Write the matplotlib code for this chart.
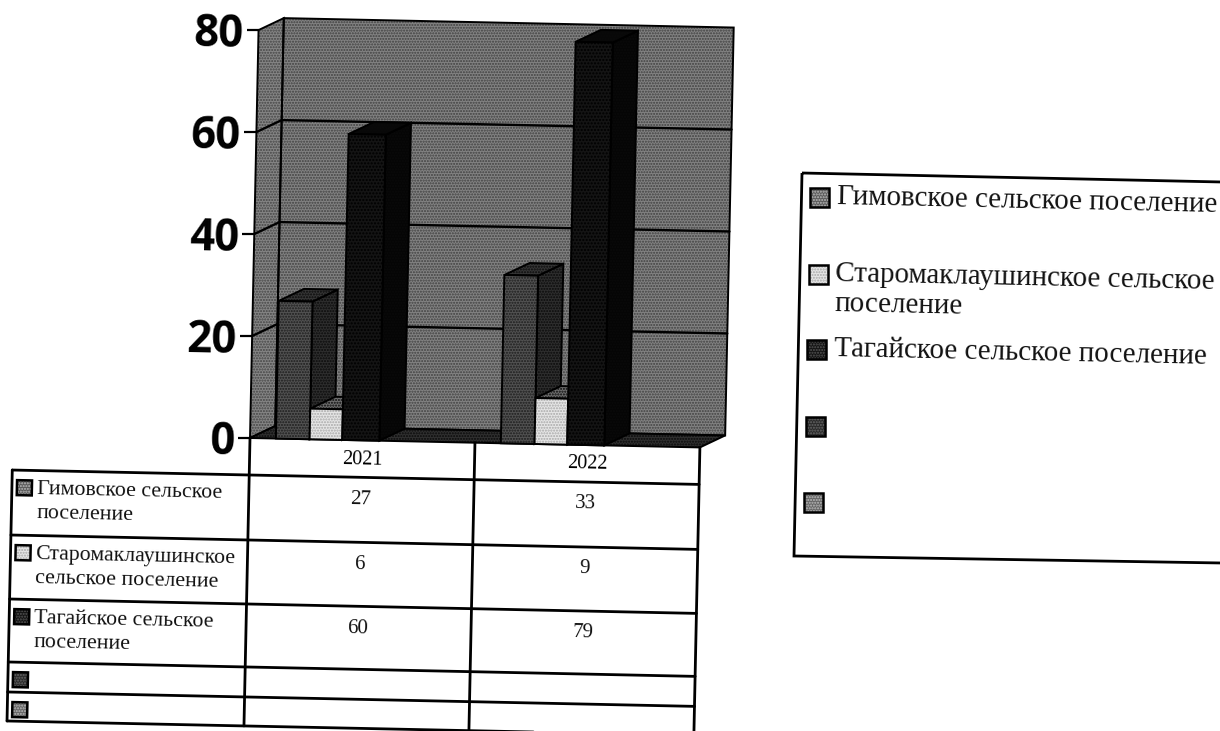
import matplotlib
matplotlib.use("Agg")
import matplotlib.pyplot as plt
from matplotlib.transforms import Affine2D
from matplotlib.patches import Polygon

# ---------- data ----------
years = ["2021", "2022"]
gimov = [27, 33]
staro = [6, 9]
tagai = [60, 79]
y_ticks = [0, 20, 40, 60, 80]
name_gimov = "Гимовское сельское поселение"
name_staro = "Старомаклаушинское сельское поселение"
name_tagai = "Тагайское сельское поселение"

# ---------- layout / style ----------
W, H = 1220, 731
TILT = -1.2
OX, OY = 250, H - 438          # origin of the tilted plot frame
PX_PER_X, PX_PER_Y = 225.0, 5.1
DX, DY = 25 / PX_PER_X, 12.5 / PX_PER_Y   # 3-D depth in data units
BAR_START = 0.115
BAR_WIDTHS = [0.15, 0.145, 0.165]
SERIF = "Liberation Serif"

fig = plt.figure(figsize=(W / 100, H / 100), dpi=100, facecolor="white")
ax = fig.add_axes([OX / W, OY / H, 2 * PX_PER_X / W, 80 * PX_PER_Y / H])
ax.set_xlim(0, 2)
ax.set_ylim(0, 80)
ax.patch.set_visible(False)
for s in ax.spines.values():
    s.set_visible(False)

rot = Affine2D().translate(-OX, -OY).rotate_deg(TILT).translate(OX, OY)
tr = ax.transData + rot
# tilted pixel frame: x right, y down from the plot origin
frame = Affine2D().scale(1, -1).rotate_deg(TILT).translate(OX, OY)
# plain image pixels
img = Affine2D().scale(1, -1).translate(0, H)


def face(xs, ys, fc, hatch=None, hc="#000000", z=1, lw=1.4):
    pts = list(zip(xs, ys))
    p = Polygon(pts, closed=True, facecolor=fc, edgecolor=hc, hatch=hatch, lw=0,
                transform=tr, clip_on=False, zorder=z)
    ax.add_patch(p)
    ax.add_patch(Polygon(pts, closed=True, fill=False, edgecolor="black", lw=lw,
                         transform=tr, clip_on=False, zorder=z + 0.01))


def seg(xs, ys, z=2, lw=1.7, t=None):
    ax.plot(xs, ys, color="black", lw=lw, transform=t if t is not None else tr,
            clip_on=False, zorder=z, solid_capstyle="round")


# walls and floor
face([0, DX, DX, 0], [0, DY, 80 + DY, 80], "#858585", "......", "#444444", z=1)
face([DX, 2 + DX, 2 + DX, DX], [DY, DY, 80 + DY, 80 + DY], "#828282", "......", "#404040", z=1)
face([0, 2, 2 + DX, DX], [0, 0, DY, DY], "#303030", "......", "#0a0a0a", z=1.5)

for v in y_ticks[1:-1]:
    seg([0, DX, 2 + DX], [v, v + DY, v + DY])

# bars
series = [gimov, staro, tagai]
front_col = ["#525252", "#e6e6e6", "#141414"]
front_hatch = ["......", "......", "....."]
hatch_col = ["#1c1c1c", "#a8a8a8", "#000000"]
side_col = ["#2e2e2e", "#6a6a6a", "#050505"]
top_col = ["#363636", "#6e6e6e", "#080808"]

z = 3
for g in range(len(years)):
    x = g + BAR_START
    for k, vals in enumerate(series):
        w = BAR_WIDTHS[k]
        v = vals[g]
        face([x + w, x + w + DX, x + w + DX, x + w], [0, DY, v + DY, v], side_col[k],
             "......", "#0a0a0a", z=z)
        face([x, x + DX, x + w + DX, x + w], [v, v + DY, v + DY, v], top_col[k],
             "......", "#0a0a0a", z=z + 0.1)
        ax.bar([x], [v], width=w, align="edge", color=front_col[k], edgecolor=hatch_col[k],
               hatch=front_hatch[k], lw=0, transform=tr, clip_on=False, zorder=z + 0.2)
        face([x, x + w, x + w, x], [0, 0, v, v], "none", z=z + 0.3)
        x += w
        z += 1

# real axis ticks, tilted with the plot
ax.set_yticks(y_ticks)
ax.set_xticks([0.5, 1.5])
ax.set_xticklabels(years, fontfamily=SERIF, fontsize=14.5)
ax.set_yticklabels([str(v) for v in y_ticks], fontfamily="Open Sans", fontweight="bold", fontsize=31.5)
ax.tick_params(axis="y", length=8.5, width=1.6, pad=2.5, labelrotation=TILT)
ax.tick_params(axis="x", length=0, pad=7, labelrotation=TILT)
for axis in (ax.xaxis, ax.yaxis):
    for t in axis.get_major_ticks():
        t.label1.set_transform(t.label1.get_transform() + rot)
        t.tick1line.set_transform(t.tick1line.get_transform() + rot)
        t.label1.set_rotation_mode("anchor")

# ---------- data table ----------
COLS = [0, 225, 450]
TAB_L = -237
ROWS = [37, 102, 166, 229, 259, 288]
for c in COLS:
    seg([c, c], [0, ROWS[-1]], t=frame, lw=2)
seg([TAB_L, TAB_L], [ROWS[0], ROWS[-1]], t=frame, lw=2)
for r in ROWS:
    seg([TAB_L, COLS[-1]], [r, r], t=frame, lw=2)

table_labels = ["Гимовское сельское\nпоселение",
                "Старомаклаушинское\nсельское поселение",
                "Тагайское сельское\nпоселение", "", ""]
swatch_fc = ["#5a5a5a", "#e6e6e6", "#141414", "#2a2a2a", "#666666"]
swatch_hc = ["#bbbbbb", "#a8a8a8", "#555555", "#666666", "#bbbbbb"]


def swatch(x, y, s, i, t):
    pts = [(x, y), (x + s, y), (x + s, y + s), (x, y + s)]
    ax.add_patch(Polygon(pts, closed=True, facecolor=swatch_fc[i], edgecolor=swatch_hc[i],
                         hatch="......", lw=0, transform=t, clip_on=False, zorder=20))
    ax.add_patch(Polygon(pts, closed=True, fill=False, edgecolor="black", lw=1.8,
                         transform=t, clip_on=False, zorder=21))


for i in range(5):
    swatch(TAB_L + 5, ROWS[i] + 10, 15, i, frame)
    if table_labels[i]:
        ax.text(TAB_L + 25, ROWS[i] + 9, table_labels[i], transform=frame, family=SERIF,
                fontsize=15.7, linespacing=1.38, rotation=TILT, rotation_mode="anchor",
                ha="left", va="top", color="#111111", zorder=22)
for k, vals in enumerate(series):
    for g, v in enumerate(vals):
        ax.text(COLS[g] + 112, ROWS[k] + 22, str(v), transform=frame, family=SERIF,
                fontsize=15, rotation=TILT, rotation_mode="anchor",
                ha="center", va="center", color="#111111", zorder=22)

# ---------- legend box ----------
box = [(802, 173), (1222, 182), (1222, 563), (794, 556)]
ax.add_patch(Polygon(box, closed=True, fill=False, edgecolor="black", lw=2,
                     transform=img, clip_on=False, zorder=20))
legend_y = [188, 265, 340, 417, 493]
legend_x = [810, 809, 807, 806, 804]
legend_text = [name_gimov, "Старомаклаушинское сельское\nпоселение", name_tagai, "", ""]
for i in range(5):
    swatch(legend_x[i], legend_y[i], 19, i, img)
    if legend_text[i]:
        ax.text(legend_x[i] + 27, legend_y[i] - 4, legend_text[i], transform=img, family=SERIF,
                fontsize=20.9, linespacing=1.2, rotation=TILT, rotation_mode="anchor",
                ha="left", va="top", color="#111111", zorder=22)

fig.savefig("out.png", dpi=100)
